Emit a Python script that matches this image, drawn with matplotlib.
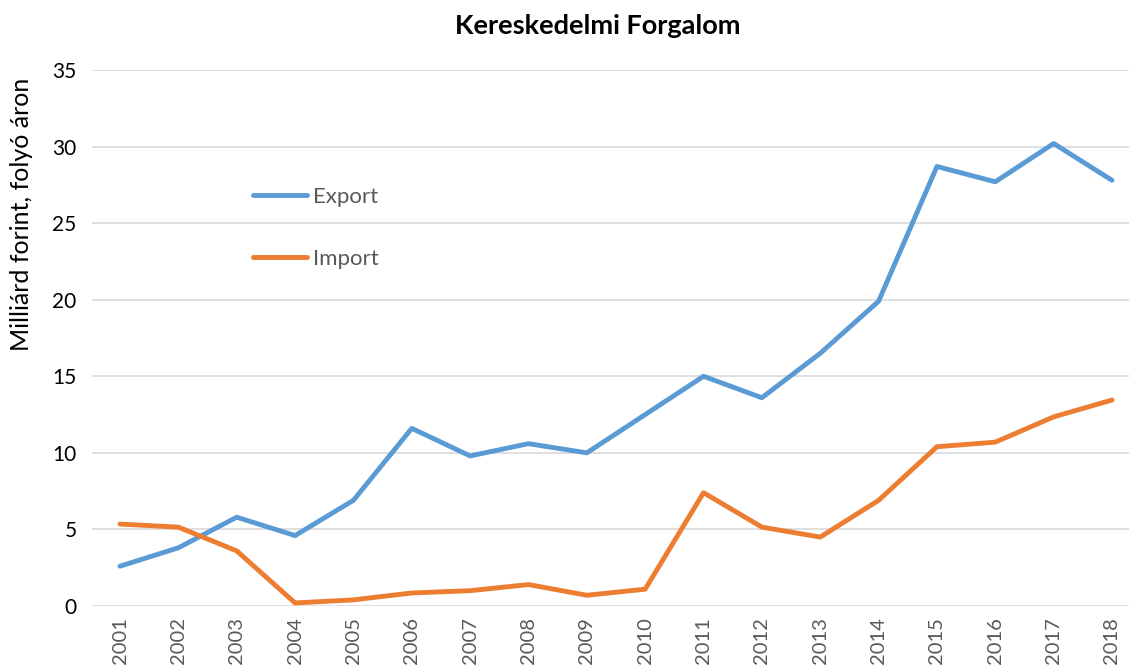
import matplotlib
matplotlib.use('Agg')
import matplotlib.pyplot as plt

years = [str(y) for y in range(2001, 2019)]
export_vals = [2.6, 3.8, 5.8, 4.6, 6.9, 11.6, 9.8, 10.6, 10.0, 12.5,
               15.0, 13.6, 16.5, 19.9, 28.7, 27.7, 30.2, 27.8]
import_vals = [5.35, 5.15, 3.6, 0.2, 0.4, 0.85, 1.0, 1.4, 0.7, 1.1,
               7.4, 5.15, 4.5, 6.9, 10.4, 10.7, 12.35, 13.45]

plt.rcParams['font.family'] = ['Lato', 'DejaVu Sans']

W, H = 1129, 669
fig = plt.figure(figsize=(W / 100, H / 100), dpi=100)
ax = fig.add_axes([92 / W, 1 - 606 / H, 1 - 92 / W, (606 - 70) / H])

x = list(range(len(years)))
ax.plot(x, export_vals, color='#5B9BD5', lw=3.5, label='Export',
        solid_capstyle='round', solid_joinstyle='round')
ax.plot(x, import_vals, color='#ED7D31', lw=3.5, label='Import',
        solid_capstyle='round', solid_joinstyle='round')

ax.set_ylim(0, 35)
ax.set_xlim(-0.48, 17 + (W - 1112) / 58.35)
ax.set_yticks(range(0, 36, 5))
ax.set_xticks(x)
ax.set_xticklabels(years, rotation=90, color='#595959', fontsize=14.5)
ax.tick_params(axis='y', labelsize=15, length=0, pad=11, labelcolor='black')
ax.tick_params(axis='x', length=0, pad=8)
ax.grid(axis='y', color='#D9D9D9', lw=1.2)
ax.set_axisbelow(True)
for s in ax.spines.values():
    s.set_visible(False)

fig.text(598 / W, 1 - 26 / H, 'Kereskedelmi Forgalom', ha='center', va='center',
         fontsize=19.5, fontweight='bold')
fig.text(22 / W, 1 - 214 / H, 'Milliárd forint, folyó áron', rotation=90,
         ha='center', va='center', fontsize=18)

fig.legend(loc='center left', bbox_to_anchor=(253 / W, 1 - 228 / H),
           frameon=False, fontsize=16, handlelength=2.45, handletextpad=0.25,
           labelspacing=1.9, borderpad=0, borderaxespad=0, labelcolor='#595959')

fig.savefig('out.png', dpi=100)
